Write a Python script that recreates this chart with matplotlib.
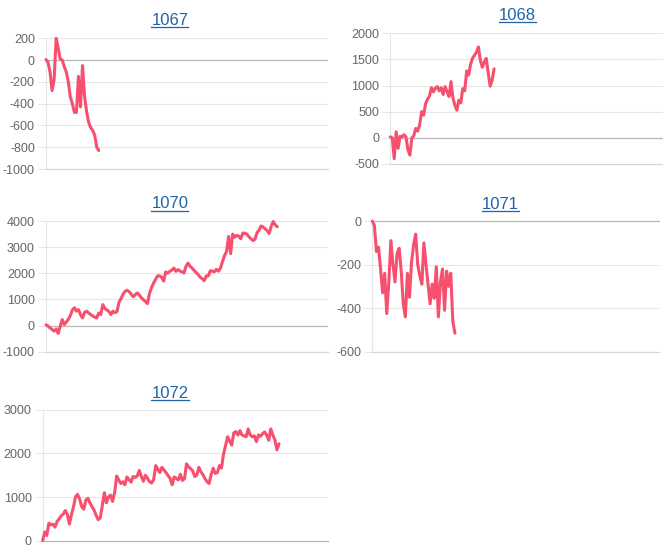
import matplotlib
matplotlib.use("Agg")
import matplotlib.pyplot as plt
from matplotlib.lines import Line2D
import numpy as np

plt.rcParams['font.family'] = ['Liberation Sans', 'DejaVu Sans']

N_TOTAL = 140  # shared category slots on the x axis

titles = ["1067", "1068", "1070", "1071", "1072"]

s1067 = [5, -20, -110, -280, -180, 200, 110, 10, 0, -60, -110, -200, -340, -400,
         -480, -480, -150, -430, -50, -330, -470, -570, -620, -645, -690, -800, -830]

s1068 = [20, 0, -400, 115, -200, 30, 20, 60, 20, -230, -330, 0, 40, 180, 130, 250,
         500, 435, 650, 740, 800, 960, 880, 950, 980, 900, 960, 830, 980, 880, 790,
         1075, 760, 620, 530, 720, 670, 940, 900, 1280, 1200, 1410, 1525, 1580, 1640,
         1740, 1480, 1350, 1450, 1520, 1240, 990, 1100, 1320]

s1070 = [30, -20, -90, -150, -215, -130, -300, -30, 230, 40, 130, 240, 380, 600, 680,
         550, 610, 420, 290, 500, 550, 485, 420, 370, 320, 290, 480, 420, 800, 650,
         600, 540, 420, 550, 490, 540, 900, 1030, 1200, 1310, 1350, 1290, 1200, 1100,
         1180, 1250, 1170, 1060, 990, 920, 840, 1230, 1450, 1620, 1770, 1900, 1900,
         1850, 1700, 2050, 2010, 2075, 2120, 2200, 2075, 2140, 2090, 2050, 2010, 2265,
         2390, 2265, 2200, 2110, 2030, 1950, 1850, 1790, 1720, 1900, 1900, 2100, 2080,
         2060, 2150, 2080, 2200, 2450, 2680, 2840, 3410, 2750, 3500, 3380, 3450, 3420,
         3320, 3540, 3530, 3500, 3400, 3320, 3250, 3300, 3550, 3650, 3810, 3770, 3700,
         3630, 3520, 3800, 3980, 3850, 3780]

s1071 = [0, -20, -140, -120, -220, -330, -240, -425, -280, -90, -200, -280, -150,
         -125, -230, -380, -440, -240, -350, -190, -110, -60, -200, -250, -290, -100,
         -200, -290, -380, -290, -355, -210, -440, -280, -220, -410, -230, -300, -240,
         -460, -515]

s1072 = [0, 200, 120, 400, 360, 380, 310, 440, 500, 570, 610, 690, 600, 380, 600, 780,
         1010, 1060, 950, 780, 720, 930, 970, 870, 780, 700, 580, 480, 520, 800, 1100,
         870, 1000, 1045, 900, 1100, 1480, 1390, 1310, 1350, 1280, 1460, 1400, 1340,
         1470, 1450, 1480, 1610, 1470, 1360, 1500, 1430, 1350, 1320, 1400, 1720, 1640,
         1560, 1680, 1620, 1560, 1490, 1430, 1280, 1460, 1430, 1390, 1520, 1380, 1420,
         1760, 1690, 1650, 1600, 1470, 1500, 1680, 1580, 1510, 1420, 1350, 1310, 1520,
         1660, 1540, 1560, 1720, 1660, 1980, 2180, 2380, 2280, 2190, 2470, 2500, 2420,
         2520, 2420, 2400, 2380, 2560, 2420, 2380, 2400, 2270, 2420, 2390, 2450, 2490,
         2420, 2300, 2560, 2420, 2310, 2080, 2220]

series = [s1067, s1068, s1070, s1071, s1072]

yticks = [
    [-1000, -800, -600, -400, -200, 0, 200],
    [-500, 0, 500, 1000, 1500, 2000],
    [-1000, 0, 1000, 2000, 3000, 4000],
    [-600, -400, -200, 0],
    [0, 1000, 2000, 3000],
]

W, H = 663, 558
# axes boxes in pixels: left, right, top, bottom
boxes = [
    (46, 328, 38.3, 169),
    (390.3, 662.5, 33.3, 164),
    (46, 328, 221, 351.7),
    (372.3, 659.3, 221, 351.7),
    (42.7, 328.3, 409.7, 540.7),
]
# title centre x and baseline y, pixels
title_pos = [(170, 25), (517.7, 20), (170, 208.3), (500, 209), (170, 397.7)]

LINE_COLOR = '#f7506f'
GRID = '#e6e6e6'
ZERO = '#b8b8b8'
TICK_COLOR = '#666666'
TITLE_COLOR = '#1f63a8'

fig = plt.figure(figsize=(W / 100, H / 100), dpi=100)

title_texts = []
for name, data, ticks, (l, r, t, b), (tx, ty) in zip(titles, series, yticks, boxes, title_pos):
    ax = fig.add_axes([l / W, 1 - b / H, (r - l) / W, (b - t) / H])
    x = np.arange(len(data))
    ax.plot(x, data, color=LINE_COLOR, lw=2.2, solid_joinstyle='round',
            solid_capstyle='round', clip_on=False, zorder=5)
    ax.set_xlim(0, N_TOTAL - 1)
    ax.set_ylim(ticks[0], ticks[-1])
    ax.set_yticks(ticks)
    ax.set_yticklabels([str(v) for v in ticks])
    ax.set_xticks([])
    ax.yaxis.grid(True, color=GRID, lw=0.8)
    ax.set_axisbelow(True)
    if ticks[0] < 0 < ticks[-1]:
        ax.axhline(0, color=ZERO, lw=0.9, zorder=1)
    for side in ['top', 'right']:
        ax.spines[side].set_visible(False)
    ax.spines['left'].set_color(GRID)
    ax.spines['left'].set_linewidth(0.8)
    ax.spines['bottom'].set_color(ZERO if ticks[0] == 0 else '#d6d6d6')
    ax.spines['bottom'].set_linewidth(0.9)
    if ticks[-1] == 0:
        ax.spines['top'].set_visible(True)
        ax.spines['top'].set_color(ZERO)
        ax.spines['top'].set_linewidth(0.9)
    ax.tick_params(axis='y', length=5.8, width=0.7, color=GRID, pad=2.2,
                   labelsize=9, labelcolor=TICK_COLOR)
    ax.set_facecolor('white')
    txt = fig.text(tx / W, 1 - ty / H, name, ha='center', va='baseline',
                   fontsize=12, color=TITLE_COLOR)
    title_texts.append(txt)

fig.canvas.draw()
renderer = fig.canvas.get_renderer()
for txt in title_texts:
    bb = txt.get_window_extent(renderer)
    x0, x1 = bb.x0, bb.x1
    _, yb = txt.get_transform().transform(txt.get_position())
    yline = yb - 2.2
    fig.add_artist(Line2D([x0 / W, x1 / W], [yline / H, yline / H],
                          transform=fig.transFigure, color=TITLE_COLOR, lw=0.9))

fig.savefig("out.png", dpi=100, facecolor='white')
